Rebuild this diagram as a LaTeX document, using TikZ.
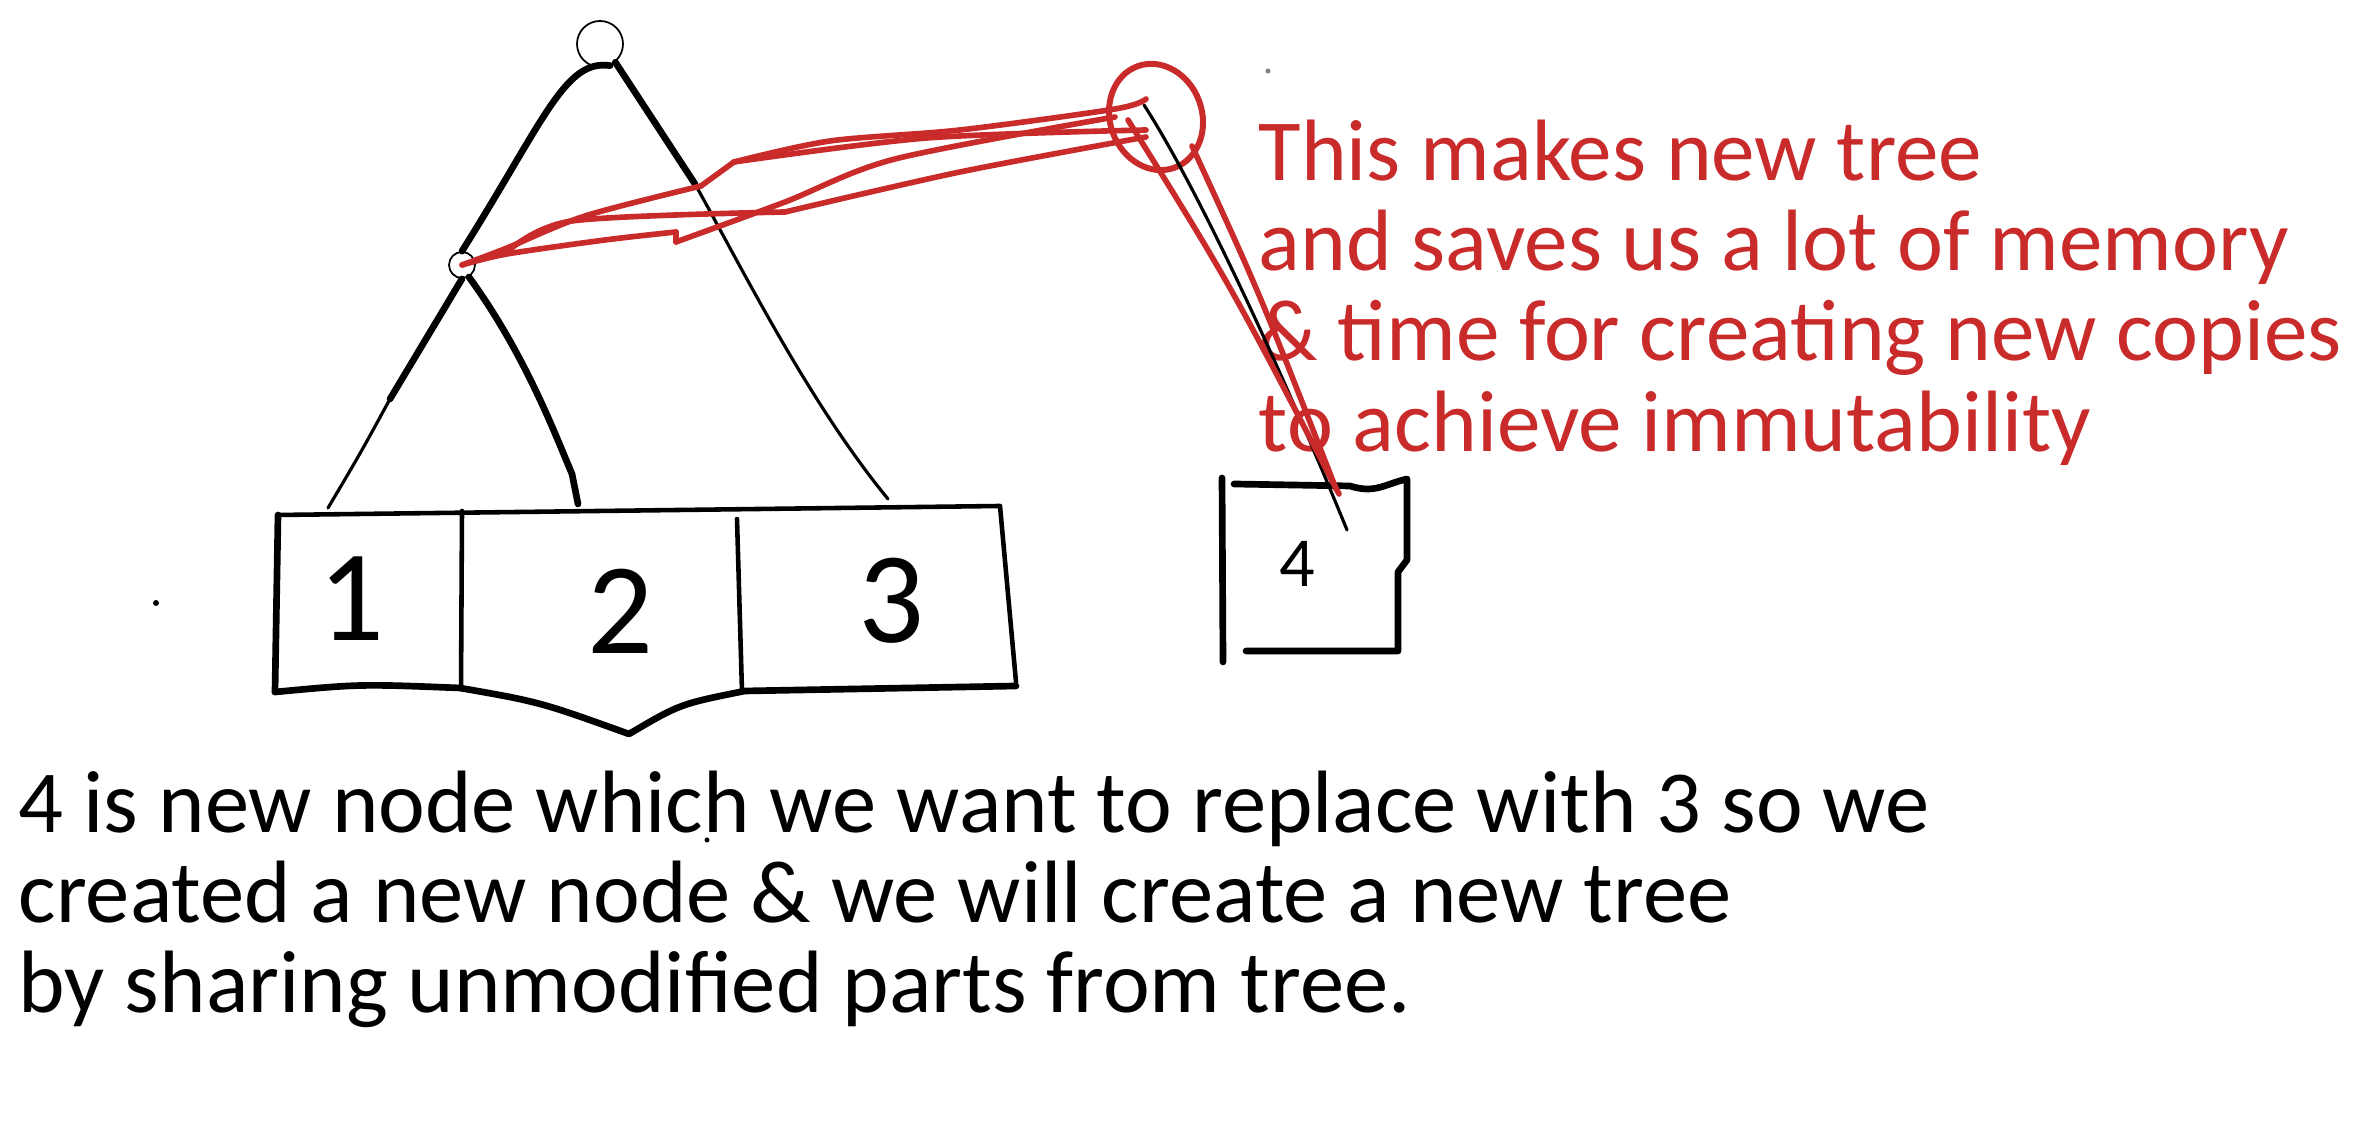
\documentclass[tikz,border=0pt]{standalone}
\usepackage{fontspec}
\setmainfont{Carlito}
\usetikzlibrary{shapes.geometric}
\definecolor{penred}{HTML}{C92A2A}
\tikzset{
  pen/.style={line width=1.3pt, line cap=round, line join=round},
  thickpen/.style={line width=1.9pt, line cap=round, line join=round},
  thinpen/.style={line width=0.9pt, line cap=round, line join=round},
  redpen/.style={penred, line width=1.6pt, line cap=round, line join=round},
  treenode/.style={circle, draw, line width=0.5pt, inner sep=0pt},
}
\begin{document}
\begin{tikzpicture}[scale=1.0]
  \useasboundingbox (0,0) rectangle (23.59,11.44);

  % Tre
  \node[treenode, minimum size=0.46cm] (root) at (6.00,11.00) {};
  \node[treenode, minimum size=0.26cm] (lchild) at (4.62,8.79) {};
  \coordinate (top1) at (3.28,6.36);
  \coordinate (top2) at (5.78,6.40);
  \coordinate (top3) at (8.88,6.45);
  \coordinate (rbend) at (6.95,9.60);
  \coordinate (lbend) at (3.90,7.45);

  \draw[thickpen] (root.-65) .. controls (5.65,10.85) and (5.45,10.25) .. (lchild.north);
  \draw[thickpen] (root.-50) -- (rbend);
  \draw[thinpen] (rbend) .. controls (7.45,8.70) and (8.10,7.40) .. (top3);
  \draw[thickpen] (lchild.south) .. controls (4.35,8.20) .. (lbend);
  \draw[thinpen] (lbend) .. controls (3.60,6.90) .. (top1);
  \draw[thickpen] (lchild.-60) .. controls (5.25,7.90) and (5.55,7.10) .. (5.72,6.70) -- (top2);

  % Boks 1 2 3
  \draw[pen] (2.78,6.29) -- (10.00,6.38) -- (10.16,4.62);
  \draw[thickpen] (2.78,6.29) -- (2.75,4.52);
  \draw[thickpen] (2.75,4.52) .. controls (3.60,4.60) .. (4.60,4.56)
    .. controls (5.40,4.42) .. (6.29,4.10) .. controls (6.80,4.40) .. (7.45,4.53) -- (10.16,4.58);
  \draw[pen] (4.62,6.33) -- (4.61,4.55);
  \draw[pen] (7.37,6.25) -- (7.42,4.52);
  \node[font=\fontsize{37}{37}\selectfont] (cell1) at (3.51,5.45) {1};
  \node[font=\fontsize{37}{37}\selectfont] (cell2) at (6.20,5.33) {2};
  \node[font=\fontsize{37}{37}\selectfont] (cell3) at (8.91,5.43) {3};

  % Ny node 4
  \node[font=\fontsize{20}{20}\selectfont] (n4) at (12.97,5.80) {4};
  \draw[thickpen] (12.22,6.66) -- (12.23,4.82);
  \draw[thickpen] (12.34,6.60) -- (13.50,6.58) .. controls (13.75,6.50) and (13.85,6.60) .. (14.07,6.65)
    -- (14.07,5.84) -- (13.98,5.72) -- (13.98,4.93) -- (12.46,4.93);
  \coordinate (n4top) at (13.47,6.14);

  % Tekst
  \node[penred, anchor=north west, align=left, inner sep=0, font=\fontsize{24.8}{25.7}\selectfont] (note) at (12.58,10.25)
    {This makes new tree\\and saves us a lot of memory\\\& time for creating new copies\\to achieve immutability};
  \node[anchor=north west, align=left, inner sep=0, font=\fontsize{25.2}{25.6}\selectfont] (caption) at (0.18,3.74)
    {4 is new node which we want to replace with 3 so we\\created a new node \& we will create a new tree\\by sharing unmodified parts from tree.};

  % Ny rot
  \node[draw=penred, line width=1.7pt, ellipse, minimum width=0.92cm, minimum height=1.08cm, rotate=20, inner sep=0] (newroot) at (11.56,10.27) {};
  \draw[thinpen] ([shift={(-0.12,0.12)}]newroot.center) .. controls (11.95,9.60) and (12.75,7.90) .. (n4top);

  % Roede streker
  \draw[redpen] plot[smooth] coordinates {(lchild.center) (5.07,8.96) (5.85,9.28) (7.01,9.58)};
  \draw[redpen] (7.01,9.58) -- (7.34,9.82);
  \draw[redpen] plot[smooth] coordinates {(7.34,9.82) (8.30,10.03) (9.60,10.14) (11.15,10.35) (11.46,10.45)};
  \draw[redpen] plot[smooth] coordinates {(lchild.center) (5.07,8.90) (6.05,9.04) (6.76,9.12)};
  \draw[redpen] (6.76,9.12) -- (6.76,9.02);
  \draw[redpen] plot[smooth] coordinates {(6.76,9.02) (7.85,9.42) (8.95,9.85) (11.15,10.27)};
  \draw[redpen] plot[smooth] coordinates {(5.07,8.92) (5.72,9.23) (7.85,9.32)};
  \draw[redpen] plot[smooth] coordinates {(7.34,9.82) (9.27,10.06) (11.46,10.14)};
  \draw[redpen] plot[smooth] coordinates {(7.85,9.32) (9.60,9.72) (11.46,10.07)};
  \draw[redpen] (11.28,10.24) .. controls (12.30,8.60) .. (13.39,6.50);
  \draw[redpen] (11.92,9.98) .. controls (12.60,8.50) .. (13.36,6.55);

  % Prikker
  \fill (1.56,5.41) circle (0.03);
  \fill[gray] (12.68,10.73) circle (0.025);
  \fill (7.07,3.04) circle (0.025);
\end{tikzpicture}
\end{document}
